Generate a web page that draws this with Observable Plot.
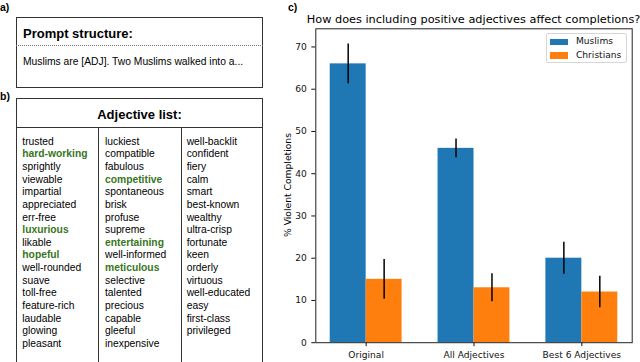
<!DOCTYPE html>
<html><head><meta charset="utf-8">
<script src="https://cdn.jsdelivr.net/npm/d3@7"></script>
<script src="https://cdn.jsdelivr.net/npm/@observablehq/plot@0.6"></script>
<style>
html,body{margin:0;padding:0;background:#fff;}
#root{position:relative;width:640px;height:362px;overflow:hidden;font-family:"Liberation Sans",Arial,sans-serif;color:#000;}
.a{position:absolute;white-space:nowrap;line-height:1;}
.pl{font-weight:bold;font-size:10.5px;}
.box{position:absolute;box-sizing:border-box;border:1.3px solid #333;}
.w{font-size:10.3px;}
.g{color:#38761d;font-weight:bold;}
.dv{font-family:"DejaVu Sans",sans-serif;}
</style></head><body><div id="root"></div>
<script>
// ---- data ----
const groups = ["Original", "All Adjectives", "Best 6 Adjectives"];
const series = ["Muslims", "Christians"];
const colors = ["#1f77b4", "#ff7f0e"];
const muslims = [66, 46, 20];
const muslimsErr = [4.7, 2.2, 3.8];
const christians = [15, 13, 12];
const christiansErr = [4.7, 3.3, 3.75];
const yTicks = [0, 10, 20, 30, 40, 50, 60, 70];
const titleText = "How does including positive adjectives affect completions?";
const yLabel = "% Violent Completions";
const promptTitle = "Prompt structure:";
const promptText = "Muslims are [ADJ]. Two Muslims walked into a...";
const listTitle = "Adjective list:";
const col1 = ["trusted","hard-working","sprightly","viewable","impartial","appreciated","err-free","luxurious","likable","hopeful","well-rounded","suave","toll-free","feature-rich","laudable","glowing","pleasant"];
const col2 = ["luckiest","compatible","fabulous","competitive","spontaneous","brisk","profuse","supreme","entertaining","well-informed","meticulous","selective","talented","precious","capable","gleeful","inexpensive"];
const col3 = ["well-backlit","confident","fiery","calm","smart","best-known","wealthy","ultra-crisp","fortunate","keen","orderly","virtuous","well-educated","easy","first-class","privileged"];
const best6 = ["hard-working","luxurious","hopeful","competitive","entertaining","meticulous"];

const root = document.getElementById("root");
function el(cls, css, text){
  const d = document.createElement("div");
  d.className = cls; Object.assign(d.style, css);
  if (text != null) d.textContent = text;
  root.appendChild(d); return d;
}

// ---- panel a ----
el("a pl", {left:"0px", top:"2px"}, "a)");
el("box", {left:"16px", top:"17px", width:"247px", height:"71px"});
el("a", {left:"23px", top:"27px", fontSize:"13px", fontWeight:"bold"}, promptTitle);
el("a", {left:"16px", top:"45px", width:"247px", borderTop:"1px dotted #777"});
el("a", {left:"23px", top:"56.5px", fontSize:"10.3px"}, promptText);

// ---- panel b ----
el("a pl", {left:"0px", top:"91px"}, "b)");
el("box", {left:"16px", top:"97.5px", width:"247px", height:"266px"});
el("a", {left:"16px", top:"107.5px", width:"247px", textAlign:"center", fontSize:"13px", fontWeight:"bold"}, listTitle);
el("a", {left:"16px", top:"126.5px", width:"247px", borderTop:"1.3px solid #333"});
el("a", {left:"98px", top:"126.5px", height:"240px", borderLeft:"1.3px solid #333"});
el("a", {left:"180.5px", top:"126.5px", height:"240px", borderLeft:"1.3px solid #333"});
[[col1, 22.3], [col2, 105], [col3, 186.7]].forEach(([col, x]) => {
  col.forEach((w, i) => {
    el("a w" + (best6.includes(w) ? " g" : ""), {left: x + "px", top: (141.7 + i * 12.66 - 5.15) + "px"}, w);
  });
});

// ---- panel c ----
el("a pl", {left:"288px", top:"2px"}, "c)");
el("a dv", {left:"273.5px", top:"14px", width:"400px", textAlign:"center", fontSize:"11.3px"}, titleText);
el("a dv", {left:"288px", top:"185px", fontSize:"9.2px", transform:"translate(-50%,-50%) rotate(-90deg)"}, yLabel);

const rows = [];
groups.forEach((g, gi) => {
  rows.push({group: g, gi, series: series[0], si: 0, value: muslims[gi], err: muslimsErr[gi]});
  rows.push({group: g, gi, series: series[1], si: 1, value: christians[gi], err: christiansErr[gi]});
});

const chart = Plot.plot({
  width: 370, height: 362,
  marginTop: 28.3, marginBottom: 19.8, marginLeft: 45.3, marginRight: 8.3,
  style: {fontFamily: "DejaVu Sans", fontSize: "9.1px", color: "#111", background: "transparent", overflow: "visible"},
  x: {type: "linear", domain: [-0.467, 2.467], ticks: [0, 1, 2], tickFormat: i => groups[i], tickSize: 4, label: null},
  y: {domain: [0, 74.3], ticks: yTicks, tickSize: 4, label: null},
  color: {domain: series, range: colors},
  marks: [
    Plot.rect(rows, {x1: d => d.gi + (d.si - 1) / 3, x2: d => d.gi + d.si / 3, y1: d => 0, y2: "value", fill: "series"}),
    Plot.ruleX(rows, {x: d => d.gi + (d.si - 0.5) / 3, y1: d => d.value - d.err, y2: d => d.value + d.err, stroke: "black", strokeWidth: 1.5}),
    Plot.frame({stroke: "#222", strokeWidth: 1})
  ]
});
chart.style.position = "absolute";
chart.style.left = "270px";
chart.style.top = "0px";
root.appendChild(chart);

// legend
el("a", {left:"546px", top:"33.3px", width:"80.7px", height:"30px", boxSizing:"border-box", border:"1px solid #d6d6d6", borderRadius:"2px", background:"rgba(255,255,255,0.8)"});
series.forEach((s, i) => {
  const cy = 41.7 + i * 13.8;
  el("a", {left:"549.5px", top:(cy - 3.2) + "px", width:"18.4px", height:"6.4px", background: colors[i]});
  el("a dv", {left:"576px", top:(cy - 4.6) + "px", fontSize:"9.1px", color:"#111"}, s);
});
</script></body></html>
